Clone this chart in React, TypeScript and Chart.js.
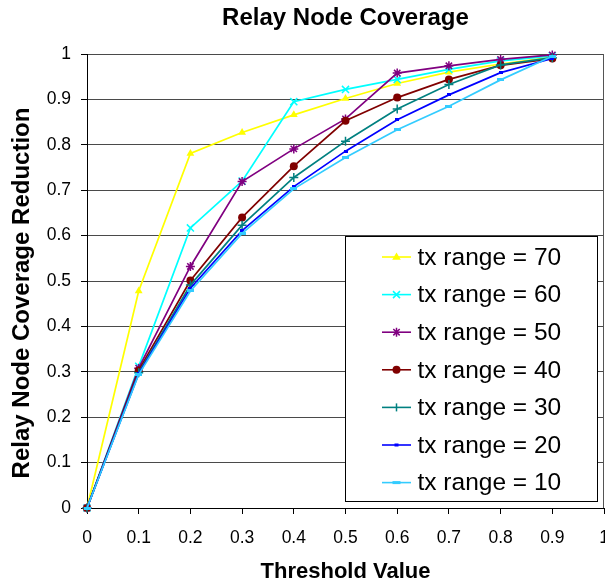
import React, { useEffect, useRef } from 'react';
import { Chart, registerables } from 'chart.js';

Chart.register(...registerables);

// ---------- data ----------
const thresholds = [0, 0.1, 0.2, 0.3, 0.4, 0.5, 0.6, 0.7, 0.8, 0.9];
const seriesNames = [
  'tx range = 70',
  'tx range = 60',
  'tx range = 50',
  'tx range = 40',
  'tx range = 30',
  'tx range = 20',
  'tx range = 10',
];
const tx70 = [0, 0.478, 0.781, 0.827, 0.866, 0.902, 0.935, 0.96, 0.978, 0.993];
const tx60 = [0, 0.312, 0.617, 0.72, 0.895, 0.922, 0.944, 0.966, 0.985, 0.996];
const tx50 = [0, 0.308, 0.532, 0.719, 0.791, 0.857, 0.958, 0.974, 0.988, 0.998];
const tx40 = [0, 0.303, 0.501, 0.64, 0.753, 0.853, 0.904, 0.944, 0.975, 0.99];
const tx30 = [0, 0.298, 0.491, 0.623, 0.728, 0.808, 0.879, 0.933, 0.976, 0.992];
const tx20 = [0, 0.296, 0.484, 0.611, 0.708, 0.786, 0.855, 0.91, 0.959, 0.99];
const tx10 = [0, 0.294, 0.478, 0.605, 0.703, 0.772, 0.833, 0.885, 0.943, 0.995];
const seriesValues = [tx70, tx60, tx50, tx40, tx30, tx20, tx10];

const chartTitle = 'Relay Node Coverage';
const xTitle = 'Threshold Value';
const yTitle = 'Relay Node Coverage Reduction';

// ---------- styles ----------
const seriesColors = ['#FFFF00', '#00FFFF', '#800080', '#800000', '#008080', '#0000FF', '#33CCFF'];
const markerKinds = ['triangle', 'crossRot', 'star', 'circle', 'cross', 'dashS', 'dashL'];
const FONT = '"Liberation Sans", Arial, Helvetica, sans-serif';

function makeDash(color: string, w: number, h: number) {
  const c = document.createElement('canvas');
  c.width = w;
  c.height = h;
  const g = c.getContext('2d')!;
  g.fillStyle = color;
  g.fillRect(0, 0, w, h);
  return c;
}

function drawMarker(ctx: CanvasRenderingContext2D, kind: string, x: number, y: number, color: string) {
  ctx.save();
  ctx.fillStyle = color;
  ctx.strokeStyle = color;
  ctx.lineWidth = 1.5;
  ctx.beginPath();
  if (kind === 'triangle') {
    const r = 4.5;
    ctx.moveTo(x, y - r);
    ctx.lineTo(x + r * 0.866 * 1.1, y + r * 0.6);
    ctx.lineTo(x - r * 0.866 * 1.1, y + r * 0.6);
    ctx.closePath();
    ctx.fill();
  } else if (kind === 'crossRot') {
    const d = 3.5;
    ctx.moveTo(x - d, y - d); ctx.lineTo(x + d, y + d);
    ctx.moveTo(x + d, y - d); ctx.lineTo(x - d, y + d);
    ctx.stroke();
  } else if (kind === 'star') {
    const d = 3.2, r = 4.5;
    ctx.moveTo(x - d, y - d); ctx.lineTo(x + d, y + d);
    ctx.moveTo(x + d, y - d); ctx.lineTo(x - d, y + d);
    ctx.moveTo(x, y - r); ctx.lineTo(x, y + r);
    ctx.stroke();
  } else if (kind === 'circle') {
    ctx.arc(x, y, 4, 0, Math.PI * 2);
    ctx.fill();
  } else if (kind === 'cross') {
    const r = 4;
    ctx.moveTo(x, y - r); ctx.lineTo(x, y + r);
    ctx.stroke();
  } else if (kind === 'dashS') {
    ctx.fillRect(x - 2, y - 1.5, 4, 3);
  } else if (kind === 'dashL') {
    ctx.fillRect(x - 4, y - 1.5, 8, 3);
  }
  ctx.restore();
}

const boxLegend = {
  id: 'boxLegend',
  afterDraw(chart: any) {
    const ctx: CanvasRenderingContext2D = chart.ctx;
    ctx.save();
    const bx = 345.5, by = 236.5, bw = 252, bh = 265;
    ctx.fillStyle = '#ffffff';
    ctx.fillRect(bx, by, bw, bh);
    ctx.strokeStyle = '#000000';
    ctx.lineWidth = 1;
    ctx.strokeRect(bx, by, bw, bh);
    ctx.font = '24.5px ' + FONT;
    ctx.textBaseline = 'middle';
    ctx.textAlign = 'left';
    seriesNames.forEach((name, i) => {
      const y = 257 + i * 37.6;
      ctx.strokeStyle = seriesColors[i];
      ctx.lineWidth = 1.6;
      ctx.beginPath();
      ctx.moveTo(382, y);
      ctx.lineTo(411, y);
      ctx.stroke();
      drawMarker(ctx, markerKinds[i], 396.5, y, seriesColors[i]);
      ctx.fillStyle = '#000000';
      ctx.fillText(name, 417.5, y + 1);
    });
    ctx.restore();
  },
};

const frameAndYTitle = {
  id: 'frameAndYTitle',
  beforeDatasetsDraw(chart: any) {
    const { ctx, chartArea } = chart;
    ctx.save();
    ctx.strokeStyle = '#555555';
    ctx.lineWidth = 1;
    const rx = Math.round(chartArea.right) - 0.5;
    ctx.beginPath();
    ctx.moveTo(rx, chartArea.top);
    ctx.lineTo(rx, chartArea.bottom);
    ctx.stroke();
    ctx.restore();
  },
  afterDraw(chart: any) {
    const ctx: CanvasRenderingContext2D = chart.ctx;
    ctx.save();
    ctx.translate(22, 293);
    ctx.rotate(-Math.PI / 2);
    ctx.font = 'bold 24px ' + FONT;
    ctx.fillStyle = '#000000';
    ctx.textAlign = 'center';
    ctx.textBaseline = 'middle';
    ctx.fillText(yTitle, 0, 0);
    ctx.restore();
  },
};

const fmt = (v: any) => {
  const n = Number(Number(v).toFixed(1));
  return String(n);
};

export default function App() {
  const ref = useRef<HTMLCanvasElement>(null);

  useEffect(() => {
    if (!ref.current) return;
    const pointImgs: any = {
      dashS: makeDash(seriesColors[5], 4, 3),
      dashL: makeDash(seriesColors[6], 7, 3),
    };
    const radii: any = { triangle: 4.5, crossRot: 5, star: 4.5, circle: 4, cross: 4.5 };

    const datasets = seriesNames.map((name, i) => {
      const kind = markerKinds[i];
      return {
        label: name,
        data: thresholds.map((x, j) => ({ x, y: seriesValues[i][j] })),
        borderColor: seriesColors[i],
        backgroundColor: seriesColors[i],
        pointBackgroundColor: seriesColors[i],
        pointBorderColor: seriesColors[i],
        borderWidth: 1.7,
        pointBorderWidth: kind === 'circle' || kind === 'triangle' ? 0 : 1.5,
        pointStyle: pointImgs[kind] || kind,
        pointRadius: radii[kind] || 3,
        tension: 0,
        clip: false as any,
        order: seriesNames.length - 1 - i,
      };
    });

    const chart = new Chart(ref.current, {
      type: 'line',
      data: { datasets },
      plugins: [frameAndYTitle, boxLegend],
      options: {
        animation: false,
        responsive: false,
        devicePixelRatio: 1,
        layout: { padding: { left: 0, right: 1, top: 0, bottom: 0 }, autoPadding: false },
        plugins: {
          legend: { display: false },
          tooltip: { enabled: false },
          title: {
            display: true,
            text: chartTitle,
            color: '#000',
            fullSize: false,
            font: { family: FONT, size: 24, weight: 'bold' },
            padding: { top: 4, bottom: 21.2 },
          },
        },
        scales: {
          x: {
            type: 'linear',
            min: 0,
            max: 1,
            afterFit: (s: any) => {
              s.height = 77;
              s.paddingLeft = 0;
              s.paddingRight = 0;
            },
            ticks: {
              stepSize: 0.1,
              color: '#000',
              padding: 14,
              maxRotation: 0,
              autoSkip: false,
              font: { family: FONT, size: 17.5 },
              callback: fmt,
            },
            grid: { drawOnChartArea: false, drawTicks: true, tickLength: 6, tickColor: '#000' },
            border: { color: '#000', width: 1 },
            title: {
              display: true,
              text: xTitle,
              color: '#000',
              font: { family: FONT, size: 22, weight: 'bold' },
              padding: { top: 0, bottom: 0 },
            },
          },
          y: {
            type: 'linear',
            min: 0,
            max: 1,
            afterFit: (s: any) => {
              s.width = 87;
              s.paddingTop = 0;
              s.paddingBottom = 0;
            },
            ticks: {
              stepSize: 0.1,
              color: '#000',
              padding: 10,
              autoSkip: false,
              font: { family: FONT, size: 17.5 },
              callback: fmt,
            },
            grid: { color: '#4a4a4a', lineWidth: 1, drawTicks: true, tickLength: 6, tickColor: '#000' },
            border: { color: '#000', width: 1 },
          },
        },
      } as any,
    });
    return () => chart.destroy();
  }, []);

  return (
    <div style={{ position: 'fixed', left: 0, top: 0, width: 605, height: 585, background: '#fff' }}>
      <canvas ref={ref} width={605} height={585} style={{ display: 'block', width: 605, height: 585 }} />
    </div>
  );
}
